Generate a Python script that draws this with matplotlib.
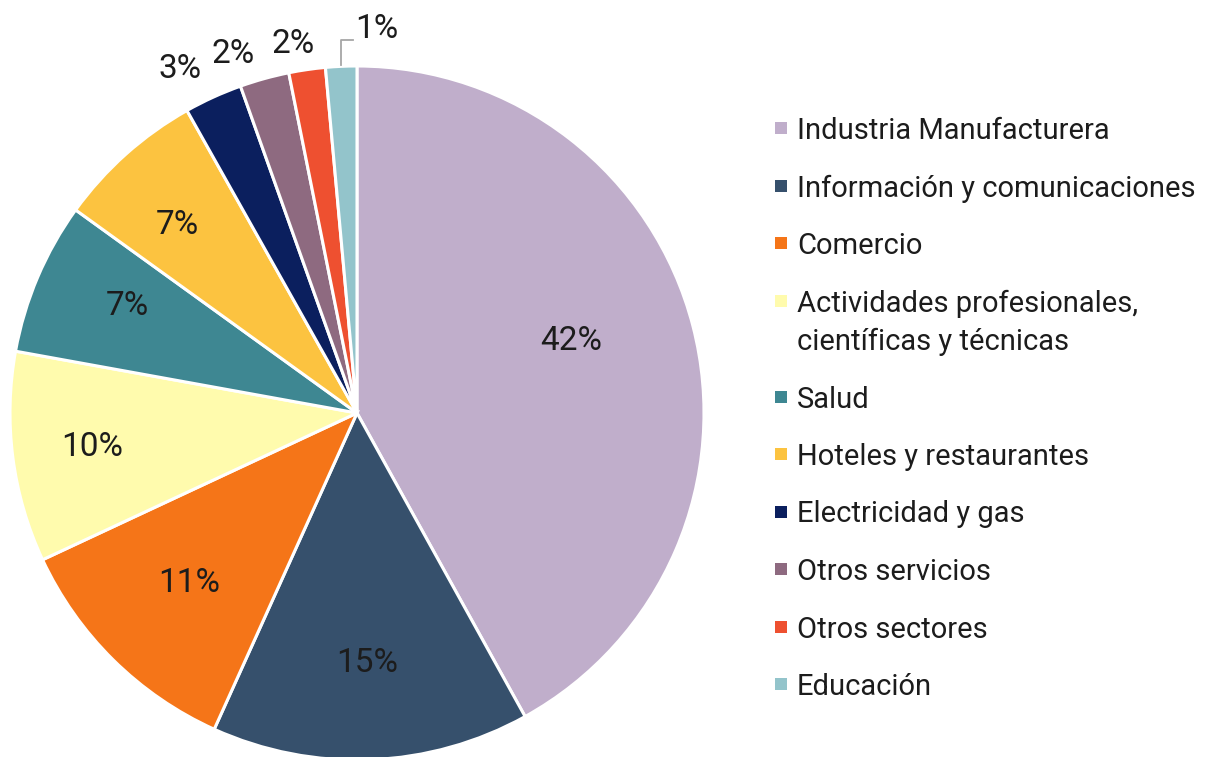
import matplotlib
matplotlib.use("Agg")
import matplotlib.pyplot as plt
from matplotlib.patches import Rectangle
import numpy as np

categories = ["Industria Manufacturera", "Información y comunicaciones", "Comercio",
              "Actividades profesionales,\ncientíficas y técnicas", "Salud",
              "Hoteles y restaurantes", "Electricidad y gas", "Otros servicios",
              "Otros sectores", "Educación"]
values = [41.95, 14.8, 11.3, 9.8, 7.1, 6.9, 2.7, 2.3, 1.7, 1.45]
pct_labels = ["42%", "15%", "11%", "10%", "7%", "7%", "3%", "2%", "2%", "1%"]
colors = ["#C0AECB", "#36506C", "#F57518", "#FFFBAD", "#3E8792",
          "#FCC340", "#0B1F5E", "#8E6A80", "#EE5030", "#93C4CB"]

plt.rcParams['font.family'] = ['Roboto', 'DejaVu Sans']
TXT = "#1c1c1c"

W, H = 1211, 757
fig = plt.figure(figsize=(W / 100, H / 100), dpi=100)
cx, cy, r = 357, 413, 347
ax = fig.add_axes([(cx - r) / W, (H - cy - r) / H, 2 * r / W, 2 * r / H])
wedges, _ = ax.pie(values, colors=colors, startangle=90, counterclock=False,
                   radius=1, wedgeprops=dict(edgecolor="white", linewidth=2.2))
ax.set_xlim(-1, 1)
ax.set_ylim(-1, 1)
ax.set_aspect("equal")
ax.axis("off")

# label placement style: radius fraction and angle offset (deg)
lab_r = [0.65, 0.72, 0.69, 0.77, 0.73, 0.75, 1.115, 1.095, 1.08]
lab_da = [4.0, 0, 0, 0, -2.0, 2.0, 2.7, 3.5, 1.5]
total = sum(values)
cum = 0
for i, (v, lab) in enumerate(zip(values, pct_labels)):
    mid = 90 - (cum + v / 2) / total * 360
    cum += v
    if i < len(lab_r):
        th = np.deg2rad(mid + lab_da[i])
        rr = lab_r[i]
        ax.text(rr * np.cos(th), rr * np.sin(th), lab, ha="center", va="center",
                fontsize=24, color=TXT)
    else:
        th = np.deg2rad(mid)
        x0, y0 = np.cos(th), np.sin(th)
        ax.plot([x0, x0, x0 + 0.035], [y0 + 0.003, y0 + 0.075, y0 + 0.075],
                color="#a6a6a6", lw=1.3, clip_on=False)
        ax.text(x0 + 0.04, y0 + 0.108, lab, ha="left", va="center",
                fontsize=24, color=TXT)

# legend (manual, to keep marker aligned with the first line of two-line labels)
leg_x, leg_y0, step, line_extra = 775, 128, 57.5, 38.5
y = leg_y0
for cat, col in zip(categories, colors):
    fig.patches.append(Rectangle(((leg_x) / W, 1 - (y + 6) / H), 12 / W, 12 / H,
                                 transform=fig.transFigure, facecolor=col,
                                 edgecolor="none"))
    fig.text(797 / W, 1 - y / H, cat.split("\n")[0], ha="left", va="center_baseline",
             fontsize=21, color=TXT)
    extra = cat.split("\n")[1:]
    for k, line in enumerate(extra):
        y += line_extra
        fig.text(797 / W, 1 - y / H, line, ha="left", va="center_baseline",
                 fontsize=21, color=TXT)
    y += step

fig.savefig("out.png", dpi=100)
